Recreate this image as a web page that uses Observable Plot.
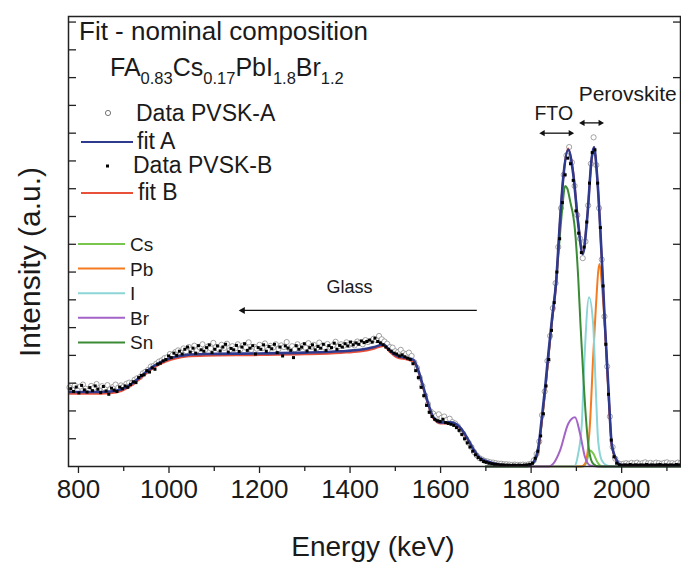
<!DOCTYPE html>
<html><head><meta charset="utf-8">
<script src="https://cdn.jsdelivr.net/npm/d3@7"></script>
<script src="https://cdn.jsdelivr.net/npm/@observablehq/plot@0.6"></script>
<style>
body{margin:0;background:#fff;}
#chart svg{display:block;}
</style></head><body><div id="chart"></div>
<script>
// ---- measured data (PVSK-A: open circles, PVSK-B: black squares), 6 keV channels ----
const channelStep = 6;
const startA = 780;
const countsA = [
 2.85,2.78,2.92,2.74,2.88,2.95,2.80,2.72,2.90,2.83,
 2.97,2.76,2.89,2.81,2.93,2.78,2.86,2.95,2.84,2.92,
 2.88,2.98,3.02,3.00,3.12,3.18,3.22,3.35,3.41,3.48,
 3.60,3.62,3.70,3.78,3.82,3.90,3.93,4.05,4.02,4.12,
 4.18,4.10,4.25,4.15,4.30,4.22,4.35,4.18,4.28,4.40,
 4.20,4.32,4.25,4.45,4.30,4.22,4.38,4.27,4.42,4.18,
 4.33,4.25,4.40,4.22,4.36,4.28,4.47,4.20,4.31,4.24,
 4.38,4.26,4.43,4.19,4.34,4.28,4.40,4.23,4.36,4.30,
 4.48,4.25,4.33,4.22,4.40,4.29,4.35,4.27,4.44,4.30,
 4.38,4.25,4.46,4.33,4.28,4.41,4.30,4.36,4.49,4.32,
 4.40,4.35,4.47,4.38,4.42,4.36,4.50,4.45,4.40,4.55,
 4.48,4.52,4.60,4.55,4.70,4.58,4.50,4.42,4.30,4.28,
 4.15,4.12,4.20,4.08,4.05,4.10,3.98,3.75,3.55,3.20,
 2.90,2.55,2.25,1.98,1.90,1.82,1.88,1.75,1.80,1.68,
 1.72,1.60,1.55,1.45,1.30,1.18,1.00,0.85,0.70,0.52,
 0.40,0.30,0.25,0.20,0.18,0.15,0.14,0.12,0.10,0.10,
 0.08,0.08,0.07,0.06,0.07,0.06,0.06,0.07,0.06,0.08,
 0.10,0.22,0.45,0.90,1.85,2.70,3.80,4.70,5.70,6.60,
 7.90,9.30,10.50,11.20,11.50,10.95,10.10,9.05,8.20,7.50,
 8.10,9.40,10.90,11.85,10.85,9.30,7.45,5.40,3.60,1.80,
 0.70,0.28,0.12,0.08,0.10,0.12,0.10,0.13,0.11,0.14,
 0.10,0.12,0.15,0.11,0.13,0.10,0.14,0.12,0.10,0.13,
 0.15,0.11,0.12,0.10,0.14,0.12
];
const startB = 783;
const countsB = [
 2.80,2.70,2.86,2.65,2.92,2.76,2.68,2.84,2.73,2.90,
 2.78,2.66,2.88,2.72,2.60,2.82,2.75,2.70,2.86,2.80,
 2.90,2.85,2.95,3.05,3.02,3.20,3.28,3.30,3.45,3.40,
 3.55,3.50,3.68,3.72,3.80,3.85,3.98,3.92,4.08,4.00,
 4.15,4.05,4.22,4.30,4.12,4.26,4.08,4.35,4.20,4.15,
 4.28,4.38,4.10,4.22,4.34,4.16,4.30,4.40,4.12,4.25,
 4.20,4.36,4.14,4.30,4.42,4.18,4.26,4.35,4.05,4.28,
 4.22,4.38,4.15,4.32,4.24,4.40,4.10,4.30,3.98,4.34,
 4.26,4.18,3.92,4.35,4.22,4.30,4.42,4.16,4.28,4.38,
 4.20,4.32,4.26,4.40,4.18,4.35,4.28,4.44,4.22,4.36,
 4.30,4.42,4.34,4.48,4.38,4.45,4.40,4.52,4.46,4.50,
 4.55,4.48,4.62,4.50,4.45,4.38,4.30,4.22,4.15,4.08,
 4.05,3.98,4.02,3.95,3.90,3.85,3.70,3.45,3.20,2.85,
 2.55,2.20,1.95,1.80,1.70,1.65,1.62,1.70,1.58,1.55,
 1.52,1.48,1.40,1.30,1.15,1.00,0.85,0.70,0.55,0.42,
 0.32,0.25,0.18,0.15,0.12,0.10,0.08,0.08,0.06,0.06,
 0.05,0.05,0.04,0.05,0.04,0.05,0.04,0.05,0.06,0.08,
 0.12,0.30,0.55,1.10,1.90,2.90,3.85,4.90,5.90,7.00,
 8.20,9.50,10.50,11.10,10.90,10.30,9.20,8.40,7.70,7.90,
 8.80,10.20,11.30,11.40,10.20,8.60,6.50,4.40,2.60,0.95,
 0.35,0.12,0.06,0.05,0.06,0.05,0.07,0.05,0.06,0.05,
 0.06,0.05,0.07,0.05,0.06,0.05,0.06,0.07,0.05,0.06,
 0.05,0.06,0.05,0.07,0.06
];

// ---- simulated fits ----
const fitEnergy = [780,830,870,895,915,935,955,975,995,1015,1040,1080,1200,1300,1380,1422,1451,1474,1488,1503,1525,1540,1551,1562,1573,1584,1599,1621,1643,1658,1672,1687,1717,1746,1794,1805,1816,1823,1831,1838,1846,1855,1864,1871,1882,1893,1904,1914,1924,1934,1939,1946,1956,1963,1971,1978,1989,1996,2010,2130];
const fitAValue = [2.68,2.68,2.70,2.78,2.95,3.20,3.48,3.70,3.85,3.95,4.02,4.05,4.07,4.10,4.15,4.20,4.29,4.39,4.17,3.99,3.91,3.84,3.45,2.85,2.25,1.77,1.59,1.59,1.41,1.05,0.64,0.31,0.12,0.04,0.04,0.15,0.69,1.65,2.85,4.05,5.30,6.60,8.90,10.40,11.40,10.53,8.73,7.65,8.97,11.13,11.49,10.41,7.53,5.13,2.73,0.82,0.22,0.06,0.04,0.04];
const fitBValue = [2.62,2.62,2.64,2.72,2.89,3.14,3.42,3.64,3.79,3.89,3.96,3.99,4.01,4.04,4.09,4.14,4.23,4.34,4.12,3.93,3.85,3.78,3.40,2.80,2.20,1.73,1.55,1.55,1.38,1.02,0.62,0.30,0.11,0.04,0.04,0.14,0.60,1.50,2.70,3.90,5.20,6.50,8.85,10.40,11.45,10.60,8.80,7.70,9.00,11.10,11.50,10.40,7.45,5.05,2.65,0.78,0.20,0.05,0.04,0.04];

// ---- elemental contributions ----
const csEnergy = [1700,1915,1922,1930,1938,1945,1952,1960,2130];
const csValue  = [0,0,0.15,0.58,0.45,0.2,0.04,0,0];
const pbEnergy = [1700,1910,1919,1930,1937,1943,1951,1957,1963,1971,1978,1989,2000,2130];
const pbValue  = [0,0,0.1,1.54,3.93,5.73,7.29,6.4,5.0,2.6,0.8,0.2,0,0];
const iEnergy  = [1700,1895,1904,1912,1918,1928,1937,1943,1948,1956,1967,1980,2130];
const iValue   = [0,0,0.46,1.54,3.93,6.09,5.13,2.73,0.94,0.22,0.04,0,0];
const brEnergy = [1700,1840,1849,1864,1882,1897,1908,1919,1930,1945,2130];
const brValue  = [0,0,0.1,0.58,1.54,1.77,1.19,0.34,0.04,0,0];
const snEnergy = [1700,1790,1805,1816,1823,1831,1838,1846,1855,1864,1870,1875,1880,1886,1897,1904,1909,1915,1921,1928,1937,1950,2130];
const snValue  = [0,0,0.12,0.6,1.5,2.7,3.9,5.2,6.6,8.4,9.5,10.1,10.0,9.57,8.49,6.81,5.13,3.33,1.77,0.58,0.1,0,0];

const componentNames  = ["Cs","Pb","I","Br","Sn"];
const componentColors = ["#78c64e","#f47b20","#8cd5d6","#a463c6","#3b8a36"];

// ---- axes ----
const xMajorTicks = [800,1000,1200,1400,1600,1800,2000];
const xMinorTicks = [900,1100,1300,1500,1700,1900,2100];
const yLeftTicks  = [1,2,3,4,5,6,7,8,9,10,11,12,13,14,15,16];
const yRightTicks = [2,4,6,8,10,12,14,16];

// ---- annotations (data units) ----
const glassArrow = {from: 1680, to: 1150, y: 5.62};
const ftoArrow   = {from: 1816, to: 1897, y: 12.0};
const pvskArrow  = {from: 1904, to: 1963, y: 12.37};

// ---- build tables ----
const dataA = countsA.map((v,i)=>({E: startA + i*channelStep, v}));
const dataB = countsB.map((v,i)=>({E: startB + i*channelStep, v}));
const fitA = fitEnergy.map((E,i)=>({E, v: fitAValue[i]}));
const fitB = fitEnergy.map((E,i)=>({E, v: fitBValue[i]}));
const comps = [[csEnergy,csValue],[pbEnergy,pbValue],[iEnergy,iValue],[brEnergy,brValue],[snEnergy,snValue]]
  .map(([es,vs],k)=>es.map((E,i)=>({E, v: vs[i], name: componentNames[k]})));

const BLUE = "#2d3a8e", RED = "#e8503a";
const FONT = "'Liberation Sans', Arial, Helvetica, sans-serif";

const arrowShafts = [
  {x1: glassArrow.from, x2: glassArrow.to + 8, y: glassArrow.y},
  {x1: ftoArrow.from + 6, x2: ftoArrow.to - 6, y: ftoArrow.y},
  {x1: pvskArrow.from + 6, x2: pvskArrow.to - 6, y: pvskArrow.y}
];
const arrowHeads = [
  {E: glassArrow.to + 13, y: glassArrow.y, rot: -90, r: 4},
  {E: ftoArrow.from + 10, y: ftoArrow.y, rot: -90, r: 3.2},
  {E: ftoArrow.to - 10, y: ftoArrow.y, rot: 90, r: 3.2},
  {E: pvskArrow.from + 10, y: pvskArrow.y, rot: -90, r: 3.2},
  {E: pvskArrow.to - 10, y: pvskArrow.y, rot: 90, r: 3.2}
];
const centeredLabels = [
  {E: 1399, y: 6.44, text: "Glass", size: 18},
  {E: 1850, y: 12.70, text: "FTO", size: 19.5}
];
const startLabels = [
  {E: 1905, y: 13.41, text: "Perovskite"}
];

const marks = [
  Plot.dot(dataA, {x: "E", y: "v", r: 2.6, fill: "white", stroke: "#8c8c8c", strokeWidth: 0.8}),
];
comps.forEach((c,k)=>marks.push(Plot.line(c, {x:"E", y:"v", stroke: componentColors[k], strokeWidth: 2, curve: "monotone-x"})));
marks.push(
  Plot.line(fitB, {x:"E", y:"v", stroke: RED, strokeWidth: 2, curve: "monotone-x"}),
  Plot.line(fitA, {x:"E", y:"v", stroke: BLUE, strokeWidth: 2.6, curve: "monotone-x"}),
  Plot.dot(dataB, {x: "E", y: "v", symbol: "square", r: 1.7, fill: "black", stroke: "none"}),
  Plot.link(arrowShafts, {x1:"x1", x2:"x2", y1:"y", y2:"y", stroke: "#111", strokeWidth: 1.3}),
  Plot.dot(arrowHeads, {x:"E", y:"y", symbol:"triangle2", rotate: "rot", r: "r", fill:"#111"}),
  Plot.text(centeredLabels.slice(0,1), {x:"E", y:"y", text:"text", textAnchor: "middle", fontSize: 18, fill:"#1a1a1a"}),
  Plot.text(centeredLabels.slice(1), {x:"E", y:"y", text:"text", textAnchor: "middle", fontSize: 19.5, fill:"#1a1a1a"}),
  Plot.text(startLabels, {x:"E", y:"y", text:"text", textAnchor: "start", fontSize: 21, fill:"#1a1a1a"}),
  Plot.axisX({ticks: xMajorTicks, tickSize: 7, tickPadding: 6, fontSize: 26, label: null, tickFormat: d=>String(d), stroke:"#222", strokeWidth: 1.3}),
  Plot.axisX({ticks: xMinorTicks, tickSize: 5, label: null, tickFormat: ()=>"", stroke:"#222", strokeWidth: 1.3}),
  Plot.axisY({ticks: yLeftTicks, anchor: "left", tickSize: -8, label: null, tickFormat: ()=>"", stroke:"#222", strokeWidth: 1.3}),
  Plot.axisY({ticks: yRightTicks, anchor: "right", tickSize: -8, label: null, tickFormat: ()=>"", stroke:"#222", strokeWidth: 1.3}),
  Plot.frame({stroke: "#222", strokeWidth: 1.5})
);

const plot = Plot.plot({
  width: 681, height: 566,
  marginLeft: 68, marginRight: 1, marginTop: 16, marginBottom: 100,
  style: {fontFamily: FONT, background: "white", color: "#1a1a1a", overflow: "visible"},
  x: {domain: [778, 2130], axis: null},
  y: {domain: [0, 16.2], axis: null},
  marks
});
document.getElementById("chart").appendChild(plot);

// ---- axis titles and in-plot legend ----
const svg = d3.select(plot);
svg.append("text").attr("x", 373).attr("y", 556).attr("text-anchor","middle")
  .attr("font-family", FONT).attr("font-size", 28).attr("fill","#1a1a1a").text("Energy (keV)");
svg.append("text").attr("transform","translate(40,262) rotate(-90)").attr("text-anchor","middle")
  .attr("font-family", FONT).attr("font-size", 30).attr("fill","#1a1a1a").text("Intensity (a.u.)");

const lg = svg.append("g").attr("font-family", FONT).attr("fill", "#1a1a1a").attr("text-anchor", "start");
lg.append("text").attr("x", 79).attr("y", 40).attr("font-size", 26).text("Fit - nominal composition");
const f = lg.append("text").attr("x", 110).attr("y", 76).attr("font-size", 25);
[["FA",0],["0.83",1],["Cs",0],["0.17",1],["PbI",0],["1.8",1],["Br",0],["1.2",1]].forEach(([t,sub],i,arr)=>{
  const prevSub = i>0 ? arr[i-1][1] : 0;
  const dy = sub && !prevSub ? 8 : (!sub && prevSub ? -8 : 0);
  f.append("tspan").attr("dy", dy).attr("font-size", sub ? 16.5 : 25).text(t);
});
const ent = [
  {type:"circle", y:113, ty:121, tx:136, text:"Data PVSK-A"},
  {type:"line", color: BLUE, y:142, ty:149, tx:137, text:"fit A"},
  {type:"square", y:166, ty:173, tx:133, text:"Data PVSK-B"},
  {type:"line", color: RED, y:193, ty:200, tx:138, text:"fit B"}
];
ent.forEach(e=>{
  if (e.type==="circle") lg.append("circle").attr("cx",108).attr("cy",e.y).attr("r",2.6).attr("fill","white").attr("stroke","#666").attr("stroke-width",0.9);
  if (e.type==="square") lg.append("rect").attr("x",106).attr("y",e.y-1.5).attr("width",3).attr("height",3).attr("fill","black");
  if (e.type==="line") lg.append("line").attr("x1",81).attr("x2",133).attr("y1",e.y).attr("y2",e.y).attr("stroke",e.color).attr("stroke-width",2);
  lg.append("text").attr("x",e.tx).attr("y",e.ty).attr("font-size",23).text(e.text);
});
componentNames.forEach((n,k)=>{
  const y = 244 + k*24.6;
  lg.append("line").attr("x1",78).attr("x2",125).attr("y1",y).attr("y2",y).attr("stroke",componentColors[k]).attr("stroke-width",2);
  lg.append("text").attr("x",130).attr("y",y+7).attr("font-size",19).text(n);
});
</script></body></html>
